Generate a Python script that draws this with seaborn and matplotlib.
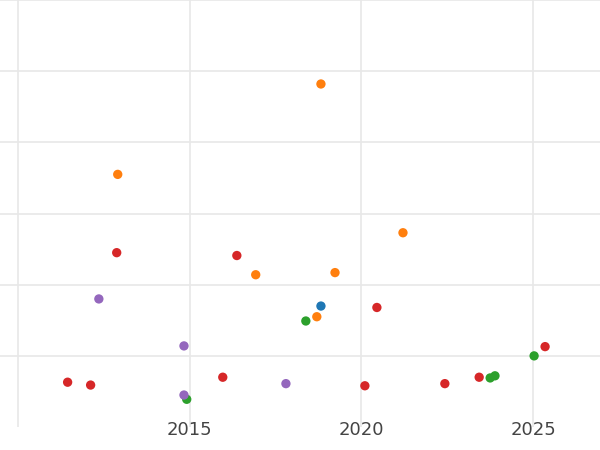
import matplotlib
matplotlib.use("Agg")
import matplotlib.pyplot as plt
import seaborn as sns
import pandas as pd

orange_x = [2018.82, 2012.90, 2021.21, 2016.92, 2019.23, 2018.70]
orange_y = [4.82, 3.55, 2.73, 2.14, 2.17, 1.55]
red_x = [2012.87, 2016.37, 2020.45, 2011.44, 2012.11, 2015.96, 2020.10, 2022.43, 2023.43, 2025.35]
red_y = [2.45, 2.41, 1.68, 0.63, 0.59, 0.70, 0.58, 0.61, 0.70, 1.13]
purple_x = [2012.35, 2014.83, 2014.83, 2017.80]
purple_y = [1.80, 1.14, 0.45, 0.61]
blue_x = [2018.82]
blue_y = [1.70]
green_x = [2018.38, 2014.91, 2023.75, 2023.89, 2025.03]
green_y = [1.49, 0.39, 0.69, 0.72, 1.00]

groups = {"blue": (blue_x, blue_y), "orange": (orange_x, orange_y), "green": (green_x, green_y),
          "red": (red_x, red_y), "purple": (purple_x, purple_y)}
rows = []
for g, (xs, ys) in groups.items():
    for x, y in zip(xs, ys):
        rows.append({"x": x, "y": y, "g": g})
df = pd.DataFrame(rows)
palette = {"blue": "#1f77b4", "orange": "#ff7f0e", "green": "#2ca02c", "red": "#d62728", "purple": "#9467bd"}

sns.set_theme(style="whitegrid")
fig = plt.figure(figsize=(6, 4.5), dpi=100)
ax = fig.add_axes([0, 0.051, 1, 0.949])
sns.scatterplot(data=df, x="x", y="y", hue="g", palette=palette, s=45, linewidth=0, ax=ax, legend=False)
ax.set_xlim(2009.47, 2026.95)
ax.set_ylim(0, 6.0)
ax.set_xticks([2010, 2015, 2020, 2025])
ax.set_xticklabels(["", "2015", "2020", "2025"])
ax.set_yticks([1, 2, 3, 4, 5, 6])
ax.set_yticklabels([])
ax.tick_params(axis="x", labelsize=13, colors="#444444", pad=-4, length=0)
ax.set_xlabel("")
ax.set_ylabel("")
ax.grid(color="#e8e8e8", linewidth=1.2)
for s in ax.spines.values():
    s.set_visible(False)
fig.savefig("out.png")
